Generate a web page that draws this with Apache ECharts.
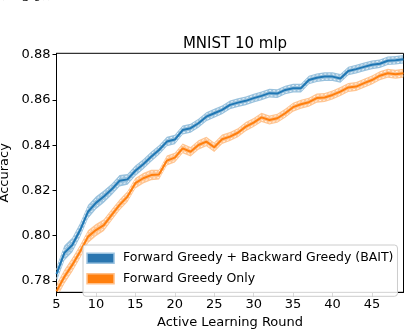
<!DOCTYPE html>
<html><head><meta charset="utf-8">
<script src="https://cdn.jsdelivr.net/npm/echarts@6/dist/echarts.min.js"></script>
<style>html,body{margin:0;padding:0;background:#fff}#c{width:406px;height:332px}</style>
</head><body><div id="c"></div>
<script>
const title = 'MNIST 10 mlp';
const rounds = [5,6,7,8,9,10,11,12,13,14,15,16,17,18,19,20,21,22,23,24,25,26,27,28,29,30,31,32,33,34,35,36,37,38,39,40,41,42,43,44,45,46,47,48,49];
const baitMean = [0.7830,0.7924,0.7959,0.8025,0.8106,0.8145,0.8173,0.8205,0.8243,0.8249,0.8287,0.8316,0.8349,0.8379,0.8416,0.8425,0.8467,0.8475,0.8497,0.8526,0.8541,0.8556,0.8578,0.8588,0.8596,0.8608,0.8618,0.8630,0.8628,0.8644,0.8652,0.8652,0.8688,0.8698,0.8703,0.8703,0.8695,0.8728,0.8736,0.8746,0.8755,0.8760,0.8773,0.8775,0.8780];
const baitStd  = [0.0033,0.0033,0.0032,0.0031,0.0030,0.0028,0.0027,0.0025,0.0025,0.0024,0.0023,0.0022,0.0022,0.0021,0.0021,0.0021,0.0020,0.0020,0.0020,0.0020,0.0020,0.0019,0.0019,0.0019,0.0019,0.0019,0.0019,0.0019,0.0019,0.0019,0.0019,0.0019,0.0019,0.0019,0.0019,0.0019,0.0019,0.0019,0.0019,0.0019,0.0019,0.0019,0.0019,0.0019,0.0019];
const fwdStd   = [0.0031,0.0031,0.0030,0.0029,0.0028,0.0027,0.0026,0.0025,0.0024,0.0024,0.0023,0.0023,0.0023,0.0022,0.0022,0.0022,0.0022,0.0021,0.0021,0.0021,0.0021,0.0021,0.0020,0.0020,0.0020,0.0020,0.0020,0.0020,0.0020,0.0020,0.0020,0.0020,0.0020,0.0020,0.0020,0.0020,0.0020,0.0020,0.0020,0.0020,0.0020,0.0020,0.0020,0.0020,0.0020];
const fwdMean  = [0.7755,0.7819,0.7871,0.7930,0.7996,0.8025,0.8047,0.8092,0.8136,0.8173,0.8232,0.8254,0.8268,0.8270,0.8332,0.8345,0.8386,0.8371,0.8401,0.8416,0.8391,0.8426,0.8438,0.8455,0.8482,0.8500,0.8523,0.8511,0.8519,0.8541,0.8568,0.8581,0.8590,0.8608,0.8611,0.8622,0.8637,0.8655,0.8659,0.8674,0.8688,0.8707,0.8718,0.8713,0.8718];
const yTicks = [0.78,0.80,0.82,0.84,0.86,0.88];
const xTicks = [5,10,15,20,25,30,35,40,45];
const names = ['Forward Greedy + Backward Greedy (BAIT)','Forward Greedy Only'];

const FONT = 'DejaVu Sans';
function pairs(xs, ys){ return xs.map((x,i)=>[x, ys[i]]); }
function bandSeries(mean, std, color){
  return {type:'custom', silent:true, z:1, clip:true,
    data: rounds.map((r,i)=>[r, mean[i]-std[i], mean[i]+std[i]]),
    encode:{x:0, y:[1,2]},
    renderItem:function(params, api){
      if (params.dataIndex !== 0) return null;
      const top = rounds.map((r,i)=>api.coord([r, mean[i]+std[i]]));
      const bot = rounds.map((r,i)=>api.coord([r, mean[i]-std[i]])).reverse();
      return {type:'polygon', shape:{points: top.concat(bot)}, style:{fill:color},
        clipPath:{type:'rect', shape:{x:params.coordSys.x, y:params.coordSys.y, width:params.coordSys.width, height:params.coordSys.height}}};
    }};
}
function edge(mean, std, sign){
  return {type:'line', data:pairs(rounds, mean.map((m,i)=>m+sign*0.6*std[i])), symbol:'none',
    lineStyle:{color:'#ffffff', width:0.8, type:[2,2]}, silent:true, z:2};
}
const series = [
  bandSeries(baitMean, baitStd, 'rgba(31,119,180,0.45)'),
  bandSeries(fwdMean, fwdStd, 'rgba(255,127,14,0.45)'),
  edge(baitMean, baitStd, 1), edge(baitMean, baitStd, -1),
  edge(fwdMean, fwdStd, 1), edge(fwdMean, fwdStd, -1),
  {name:names[0], type:'line', data:pairs(rounds, baitMean), symbol:'none', lineStyle:{color:'#1f77b4', width:2}, itemStyle:{color:'#1f77b4'}, z:3},
  {name:names[1], type:'line', data:pairs(rounds, fwdMean), symbol:'none', lineStyle:{color:'#ff7f0e', width:2}, itemStyle:{color:'#ff7f0e'}, z:3}
];

const chart = echarts.init(document.getElementById('c'), null, {renderer:'canvas'});
chart.setOption({
  animation:false,
  backgroundColor:'#ffffff',
  textStyle:{fontFamily:FONT},
  title:{text:title, left:230, top:32, textAlign:'center', textStyle:{fontFamily:FONT, fontSize:15, fontWeight:'normal', color:'#000'}},
  graphic:[{type:'text', left:0, top:-13, style:{text:'(x, g y)),', font:'italic 14px DejaVu Serif', fill:'#000'}}],
  grid:{left:56.5, right:2.5, top:53.3, bottom:39.7, outerBoundsMode:'none', containLabel:false, show:true, borderColor:'#000', borderWidth:1, backgroundColor:'transparent'},
  xAxis:{type:'value', min:5, max:49,
    name:'Active Learning Round', nameLocation:'middle', nameGap:22,
    nameTextStyle:{fontFamily:FONT, fontSize:13, color:'#000'},
    axisLine:{show:true, lineStyle:{color:'#000', width:1}},
    axisTick:{show:true, length:4, lineStyle:{color:'#000'}, customValues:xTicks},
    axisLabel:{show:true, fontFamily:FONT, fontSize:13, color:'#000', margin:6, customValues:xTicks},
    splitLine:{show:false}},
  yAxis:{type:'value', min:0.775, max:0.8806,
    name:'Accuracy', nameLocation:'middle', nameGap:31, nameRotate:90,
    nameTextStyle:{fontFamily:FONT, fontSize:13, color:'#000'},
    axisLine:{show:true, lineStyle:{color:'#000', width:1}},
    axisTick:{show:true, length:4, lineStyle:{color:'#000'}, customValues:yTicks},
    axisLabel:{show:true, fontFamily:FONT, fontSize:13, color:'#000', margin:6, customValues:yTicks, formatter:v=>v.toFixed(2)},
    splitLine:{show:false}},
  legend:{orient:'vertical', left:83, top:245, padding:[6.7,4,11,3.3], itemGap:7.6,
    itemWidth:27, itemHeight:10, icon:'rect',
    backgroundColor:'rgba(255,255,255,0.85)', borderColor:'#cccccc', borderWidth:1, borderRadius:3,
    textStyle:{fontFamily:FONT, fontSize:12.5, color:'#000', lineHeight:10, padding:[0,0,0,4]},
    data:[
      {name:names[0], itemStyle:{color:'#2a76b0', borderColor:'#9cc3e0', borderWidth:1.5}},
      {name:names[1], itemStyle:{color:'#ff7f0e', borderColor:'#ffc08a', borderWidth:1.5}}
    ]},
  series:series
});
</script></body></html>
